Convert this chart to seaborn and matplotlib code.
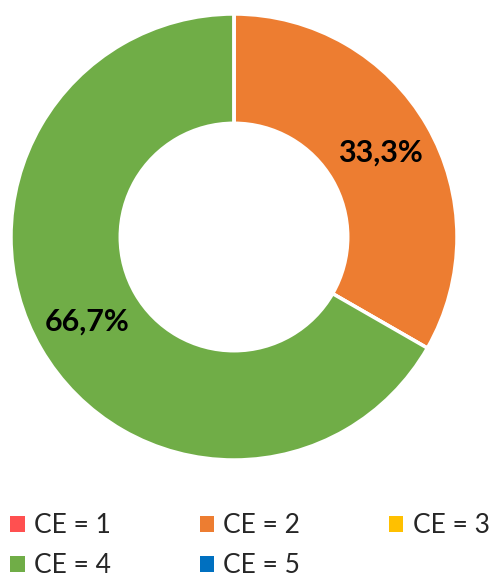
import matplotlib
matplotlib.use("Agg")
import matplotlib.pyplot as plt
import seaborn as sns
from matplotlib.patches import Patch

sns.set_theme(style="white")
plt.rcParams['font.family'] = ['Lato', 'DejaVu Sans']

categories = ["CE = 1", "CE = 2", "CE = 3", "CE = 4", "CE = 5"]
values = [0.0, 33.3, 0.0, 66.7, 0.0]
colors = ["#FF5050", "#ED7D31", "#FFC000", "#70AD47", "#0070C0"]

W, H = 492, 578
fig = plt.figure(figsize=(W / 100, H / 100), dpi=100)
cx, cy, R = 234, 237, 223
ax = fig.add_axes([(cx - R) / W, (H - cy - R) / H, 2 * R / W, 2 * R / H])

def fmt(p):
    return f"{p:.1f}%".replace(".", ",") if p > 0 else ""

wedges, texts, autotexts = ax.pie(
    values, colors=colors, startangle=90, counterclock=False,
    radius=1.0, autopct=fmt, pctdistance=0.76,
    wedgeprops=dict(width=0.49, edgecolor="white", linewidth=2.5),
    textprops=dict(fontsize=22, fontweight="bold", color="black"),
)
ax.set_xlim(-1, 1)
ax.set_ylim(-1, 1)
ax.set_aspect("equal")
ax.axis("off")

# row-major order for a 3-column legend
order = [0, 3, 1, 4, 2]
handles = [Patch(facecolor=colors[i], edgecolor="none") for i in order]
labels = [categories[i] for i in order]
fig.legend(handles, labels, loc="upper left", bbox_to_anchor=(-0.017, 1 - 495 / H),
           ncol=3, frameon=False, fontsize=19, handlelength=0.55, handleheight=0.55,
           handletextpad=0.35, columnspacing=3.36, labelspacing=0.55, borderaxespad=0.3)

fig.savefig("out.png", dpi=100)
